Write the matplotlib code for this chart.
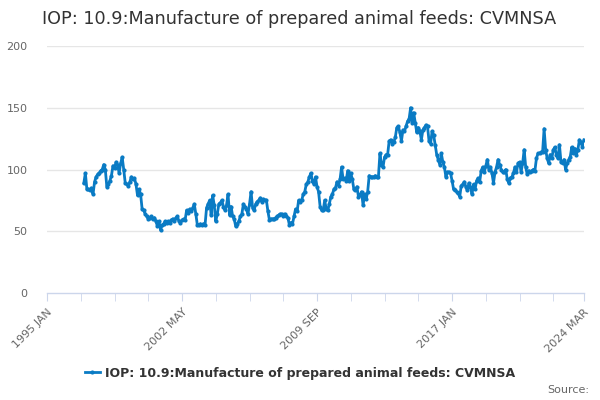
import numpy as np
import matplotlib.pyplot as plt
import matplotlib as mpl
mpl.rc("font", family="DejaVu Sans")
mpl.rc("figure", facecolor="w")

# ----- DATA -----

title = "IOP: 10.9:Manufacture of prepared animal feeds: CVMNSA"
series_name = "IOP: 10.9:Manufacture of prepared animal feeds: CVMNSA"
start_year = 1997  # first value is JAN

# monthly values, one row per year
values = [
    89, 97, 84, 84, 83, 85, 80, 90, 94, 96, 97, 99,
    100, 104, 100, 86, 88, 91, 95, 103, 101, 106, 104, 97,
    105, 110, 100, 89, 88, 87, 90, 94, 92, 93, 88, 79,
    84, 80, 68, 67, 64, 62, 60, 61, 62, 60, 61, 58,
    54, 58, 51, 55, 56, 58, 57, 58, 57, 59, 60, 58,
    61, 62, 58, 57, 59, 60, 59, 67, 65, 68, 66, 69,
    72, 64, 55, 55, 56, 55, 56, 55, 69, 72, 75, 63,
    79, 71, 58, 64, 72, 73, 75, 70, 67, 71, 80, 63,
    70, 62, 60, 54, 56, 58, 62, 64, 72, 70, 68, 64,
    72, 82, 69, 67, 72, 74, 75, 77, 74, 76, 75, 75,
    66, 59, 60, 60, 60, 61, 62, 63, 64, 64, 62, 64,
    62, 61, 55, 57, 56, 62, 68, 66, 75, 74, 75, 80,
    82, 88, 90, 94, 97, 91, 88, 94, 86, 82, 70, 67,
    67, 75, 68, 67, 72, 78, 80, 84, 85, 90, 87, 92,
    102, 92, 93, 91, 99, 91, 97, 92, 84, 83, 86, 78,
    79, 82, 71, 80, 76, 82, 95, 94, 94, 94, 95, 94,
    94, 113, 104, 102, 110, 112, 112, 123, 124, 121, 122, 126,
    134, 135, 130, 123, 132, 131, 135, 139, 141, 150, 138, 146,
    138, 130, 134, 131, 124, 132, 134, 136, 135, 123, 121, 131,
    128, 120, 112, 108, 104, 113, 106, 102, 94, 98, 98, 97,
    91, 84, 83, 82, 81, 78, 87, 88, 90, 86, 83, 89,
    86, 80, 88, 84, 91, 93, 90, 99, 102, 98, 103, 108,
    100, 102, 97, 89, 98, 102, 108, 104, 100, 98, 98, 100,
    92, 89, 93, 94, 97, 102, 98, 105, 106, 98, 105, 116,
    102, 96, 99, 98, 99, 100, 99, 109, 113, 113, 114, 114,
    133, 116, 109, 105, 112, 109, 116, 118, 112, 109, 120, 106,
    105, 108, 100, 105, 108, 110, 118, 113, 117, 112, 116, 124,
    122, 118, 124,
]

tick_labels = ["1995 JAN", "2002 MAY", "2009 SEP", "2017 JAN", "2024 MAR"]

# ----- END DATA -----

line_color = "#0a7bc4"
axis_color = "#ccd6eb"
grid_color = "#e6e6e6"
label_color = "#666666"

# months since 1995 JAN
base_year = 1995
x = (start_year - base_year) * 12 + np.arange(len(values))
x_end = x[-1]

fig = plt.figure(figsize=(6, 4), dpi=100)
ax = fig.add_axes([47 / 600, 107 / 400, 537 / 600, 247 / 400])

ax.plot(x, values, color=line_color, linewidth=2, marker="o", markersize=3,
        markeredgewidth=0, zorder=3)

ax.set_xlim(0, x_end)
ax.set_ylim(0, 200)

minor = list(range(0, x_end - 10, 22)) + [x_end]
ax.set_xticks(minor, minor=True)
ax.set_xticks([0, 88, 176, 264, x_end])
ax.set_xticklabels(tick_labels, rotation=45, ha="right", rotation_mode="anchor",
                   fontsize=8, color=label_color)
ax.tick_params(axis="x", which="both", length=6, color=axis_color, pad=4)

ax.set_yticks([0, 50, 100, 150, 200])
ax.tick_params(axis="y", length=0, labelsize=8, labelcolor=label_color, pad=14)
for lbl in ax.get_yticklabels():
    lbl.set_horizontalalignment("right")

for yv in [50, 100, 150, 200]:
    ax.axhline(yv, color=grid_color, linewidth=1, zorder=0)

for side in ["top", "right", "left"]:
    ax.spines[side].set_visible(False)
ax.spines["bottom"].set_color(axis_color)
ax.spines["bottom"].set_linewidth(1)

fig.text(42 / 600, 1 - 19 / 400, title, fontsize=12.7, color="#333333",
         ha="left", va="center")

handle, = ax.plot([], [], color=line_color, linewidth=2, marker="o",
                  markersize=3, markeredgewidth=0)
leg = fig.legend([handle], [series_name], loc="center",
                 bbox_to_anchor=(0.5, 1 - 373 / 400), frameon=False,
                 handlelength=1.2, handletextpad=0.4,
                 prop={"size": 9, "weight": "bold"})
for t in leg.get_texts():
    t.set_color("#333333")

fig.text(589 / 600, 1 - 390 / 400, "Source:", fontsize=8, color=label_color,
         ha="right", va="center")

plt.savefig("out.png", dpi=100)
plt.close(fig)
